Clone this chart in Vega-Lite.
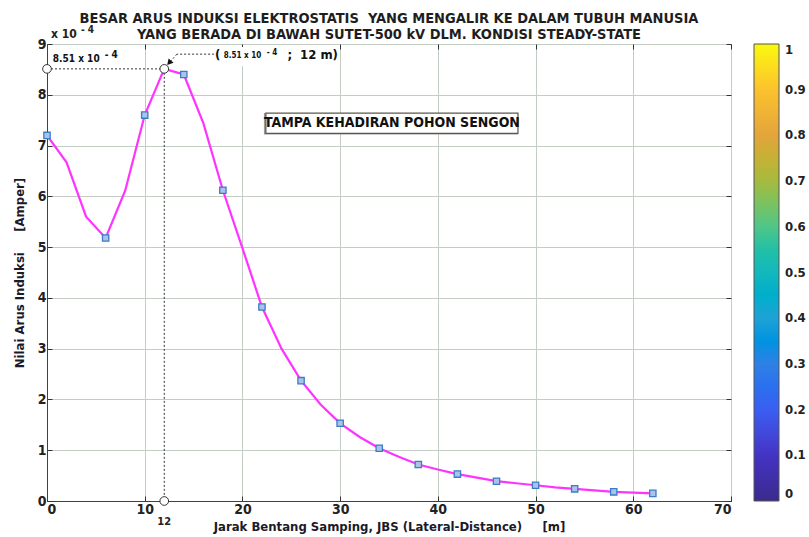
{
  "$schema": "https://vega.github.io/schema/vega-lite/v6.json",
  "width": 684,
  "height": 457,
  "autosize": "none",
  "padding": {"left": 47, "top": 44, "right": 78, "bottom": 36},
  "title": {
    "text": ["BESAR ARUS INDUKSI ELEKTROSTATIS\u00a0\u00a0YANG MENGALIR KE DALAM TUBUH MANUSIA", "YANG BERADA DI BAWAH SUTET-500 kV DLM. KONDISI STEADY-STATE"],
    "anchor": "middle",
    "font": "DejaVu Sans Condensed, sans-serif",
    "fontSize": 14.5,
    "fontWeight": "bold",
    "color": "#1e1e1e",
    "lineHeight": 16,
    "offset": -17
  },
  "datasets": {
    "curve": [
      {"x": 0, "y": 7.2}, {"x": 2, "y": 6.67}, {"x": 4, "y": 5.6}, {"x": 6, "y": 5.18},
      {"x": 8, "y": 6.11}, {"x": 10, "y": 7.6}, {"x": 12, "y": 8.51}, {"x": 14, "y": 8.4},
      {"x": 16, "y": 7.44}, {"x": 18, "y": 6.12}, {"x": 20, "y": 4.98}, {"x": 22, "y": 3.82},
      {"x": 24, "y": 3.0}, {"x": 26, "y": 2.37}, {"x": 28, "y": 1.9}, {"x": 30, "y": 1.53},
      {"x": 32, "y": 1.26}, {"x": 34, "y": 1.04}, {"x": 36, "y": 0.87}, {"x": 38, "y": 0.72},
      {"x": 40, "y": 0.62}, {"x": 42, "y": 0.53}, {"x": 44, "y": 0.46}, {"x": 46, "y": 0.39},
      {"x": 48, "y": 0.35}, {"x": 50, "y": 0.31}, {"x": 52, "y": 0.27}, {"x": 54, "y": 0.24},
      {"x": 56, "y": 0.21}, {"x": 58, "y": 0.18}, {"x": 60, "y": 0.165}, {"x": 62, "y": 0.15}
    ],
    "markers": [
      {"x": 0, "y": 7.2}, {"x": 6, "y": 5.18}, {"x": 10, "y": 7.6}, {"x": 14, "y": 8.4},
      {"x": 18, "y": 6.12}, {"x": 22, "y": 3.82}, {"x": 26, "y": 2.37}, {"x": 30, "y": 1.53},
      {"x": 34, "y": 1.04}, {"x": 38, "y": 0.72}, {"x": 42, "y": 0.53}, {"x": 46, "y": 0.39},
      {"x": 50, "y": 0.31}, {"x": 54, "y": 0.24}, {"x": 58, "y": 0.18}, {"x": 62, "y": 0.15}
    ],
    "refs": [
      {"x": 0, "y": 8.51, "x2": 12, "y2": 8.51},
      {"x": 12, "y": 8.51, "x2": 12, "y2": 0},
      {"x": 17.1, "y": 8.8, "x2": 13.3, "y2": 8.8},
      {"x": 13.3, "y": 8.8, "x2": 12.55, "y2": 8.64}
    ],
    "circles": [{"x": 0, "y": 8.51}, {"x": 12, "y": 8.51}, {"x": 12, "y": 0}],
    "boxes": [
      {"x": 0.34, "x2": 7.3, "y": 8.58, "y2": 8.84},
      {"x": 17.1, "x2": 29.8, "y": 8.56, "y2": 8.94}
    ],
    "bigtext": [
      {"x": 17.2, "y": 8.78, "label": "("},
      {"x": 24.6, "y": 8.78, "label": ";"},
      {"x": 25.9, "y": 8.78, "label": "12 m)"}
    ],
    "smalltext": [
      {"x": 0.6, "y": 8.7, "label": "8.51 x 10", "s": 10},
      {"x": 18.1, "y": 8.76, "label": "8.51 x 10", "s": 8}
    ],
    "suptext": [
      {"x": 5.9, "y": 8.79, "label": "- 4", "s": 10},
      {"x": 22.5, "y": 8.83, "label": "- 4", "s": 8}
    ],
    "scale": [{"c": 0}, {"c": 1}]
  },
  "layer": [
    {
      "data": {"values": [{"x": 0, "y": 0}]},
      "mark": {"type": "point", "size": 0},
      "encoding": {
        "x": {"field": "x", "type": "quantitative", "scale": {"domain": [0, 70], "nice": false},
              "axis": {"orient": "bottom", "title": "Jarak Bentang Samping, JBS (Lateral-Distance)\u00a0\u00a0\u00a0\u00a0\u00a0[m]", "values": [0, 10, 20, 30, 40, 50, 60, 70], "grid": true, "labelPadding": 6, "titlePadding": 4}},
        "y": {"field": "y", "type": "quantitative", "scale": {"domain": [0, 9], "nice": false},
              "axis": {"orient": "left", "title": "Nilai Arus Induksi\u00a0\u00a0\u00a0\u00a0\u00a0[Amper]", "values": [0, 1, 2, 3, 4, 5, 6, 7, 8, 9], "grid": true, "labelPadding": 6, "titlePadding": 11}}
      }
    },
    {
      "data": {"values": [{"x": 0, "y": 0}]},
      "mark": {"type": "point", "size": 0},
      "encoding": {
        "x": {"field": "x", "type": "quantitative", "axis": {"orient": "top", "title": null, "labels": false, "grid": false, "domain": false, "values": [0, 10, 20, 30, 40, 50, 60, 70]}},
        "y": {"field": "y", "type": "quantitative", "axis": {"orient": "right", "title": null, "labels": false, "grid": false, "domain": false, "values": [0, 1, 2, 3, 4, 5, 6, 7, 8, 9]}}
      }
    },
    {
      "data": {"name": "curve"},
      "mark": {"type": "line", "color": "#ff33ff", "strokeWidth": 2.2},
      "encoding": {
        "x": {"field": "x", "type": "quantitative", "axis": null},
        "y": {"field": "y", "type": "quantitative", "axis": null}
      }
    },
    {
      "data": {"name": "markers"},
      "mark": {"type": "point", "shape": "square", "size": 40, "filled": true, "fill": "#a9c4e6", "stroke": "#3b7bc8", "strokeWidth": 1.3, "opacity": 1},
      "encoding": {
        "x": {"field": "x", "type": "quantitative", "axis": null},
        "y": {"field": "y", "type": "quantitative", "axis": null}
      }
    },
    {
      "data": {"name": "refs"},
      "mark": {"type": "rule", "color": "#333333", "strokeWidth": 1, "strokeDash": [2, 2]},
      "encoding": {
        "x": {"field": "x", "type": "quantitative", "axis": null},
        "y": {"field": "y", "type": "quantitative", "axis": null},
        "x2": {"field": "x2"},
        "y2": {"field": "y2"}
      }
    },
    {
      "data": {"values": [{"x": 12.5, "y": 8.63}]},
      "mark": {"type": "point", "shape": "triangle-up", "size": 45, "filled": true, "color": "#111111", "angle": 222, "opacity": 1},
      "encoding": {
        "x": {"field": "x", "type": "quantitative", "axis": null},
        "y": {"field": "y", "type": "quantitative", "axis": null}
      }
    },
    {
      "data": {"name": "circles"},
      "mark": {"type": "point", "shape": "circle", "size": 75, "filled": true, "fill": "#ffffff", "stroke": "#333333", "strokeWidth": 1, "opacity": 1},
      "encoding": {
        "x": {"field": "x", "type": "quantitative", "axis": null},
        "y": {"field": "y", "type": "quantitative", "axis": null}
      }
    },
    {
      "data": {"name": "boxes"},
      "mark": {"type": "rect", "fill": "#ffffff"},
      "encoding": {
        "x": {"field": "x", "type": "quantitative", "axis": null},
        "y": {"field": "y", "type": "quantitative", "axis": null},
        "x2": {"field": "x2"},
        "y2": {"field": "y2"}
      }
    },
    {
      "data": {"values": [{"x": 22.2, "x2": 48.2, "y": 7.22, "y2": 7.64}]},
      "mark": {"type": "rect", "fill": "#9a9a9a"},
      "encoding": {
        "x": {"field": "x", "type": "quantitative", "axis": null},
        "y": {"field": "y", "type": "quantitative", "axis": null},
        "x2": {"field": "x2"},
        "y2": {"field": "y2"}
      }
    },
    {
      "data": {"values": [{"x": 22.4, "x2": 48.2, "y": 7.24, "y2": 7.64}]},
      "mark": {"type": "rect", "fill": "#ffffff", "stroke": "#5a5a4a", "strokeWidth": 1.2},
      "encoding": {
        "x": {"field": "x", "type": "quantitative", "axis": null},
        "y": {"field": "y", "type": "quantitative", "axis": null},
        "x2": {"field": "x2"},
        "y2": {"field": "y2"}
      }
    },
    {
      "data": {"values": [{"x": 35.3, "y": 7.44, "label": "TAMPA KEHADIRAN POHON SENGON"}]},
      "mark": {"type": "text", "font": "DejaVu Sans Condensed, sans-serif", "fontSize": 14, "fontWeight": "bold", "color": "#111111", "align": "center", "baseline": "middle"},
      "encoding": {
        "x": {"field": "x", "type": "quantitative", "axis": null},
        "y": {"field": "y", "type": "quantitative", "axis": null},
        "text": {"field": "label"}
      }
    },
    {
      "data": {"name": "bigtext"},
      "mark": {"type": "text", "font": "DejaVu Sans Condensed, sans-serif", "fontSize": 13, "fontWeight": "bold", "color": "#111111", "align": "left", "baseline": "middle"},
      "encoding": {
        "x": {"field": "x", "type": "quantitative", "axis": null},
        "y": {"field": "y", "type": "quantitative", "axis": null},
        "text": {"field": "label"}
      }
    },
    {
      "data": {"name": "smalltext"},
      "mark": {"type": "text", "font": "DejaVu Sans Condensed, sans-serif", "fontWeight": "bold", "color": "#111111", "align": "left", "baseline": "middle"},
      "encoding": {
        "x": {"field": "x", "type": "quantitative", "axis": null},
        "y": {"field": "y", "type": "quantitative", "axis": null},
        "text": {"field": "label"},
        "size": {"field": "s", "type": "quantitative", "scale": null, "legend": null}
      }
    },
    {
      "data": {"name": "suptext"},
      "mark": {"type": "text", "font": "DejaVu Sans Condensed, sans-serif", "fontWeight": "bold", "color": "#111111", "align": "left", "baseline": "middle"},
      "encoding": {
        "x": {"field": "x", "type": "quantitative", "axis": null},
        "y": {"field": "y", "type": "quantitative", "axis": null},
        "text": {"field": "label"},
        "size": {"field": "s", "type": "quantitative", "scale": null, "legend": null}
      }
    },
    {
      "data": {"values": [{"x": 0, "y": 9, "label": "x 10"}]},
      "mark": {"type": "text", "font": "DejaVu Sans Condensed, sans-serif", "fontSize": 12, "fontWeight": "bold", "color": "#222222", "align": "left", "baseline": "middle", "dx": 4, "dy": -10},
      "encoding": {
        "x": {"field": "x", "type": "quantitative", "axis": null},
        "y": {"field": "y", "type": "quantitative", "axis": null},
        "text": {"field": "label"}
      }
    },
    {
      "data": {"values": [{"x": 0, "y": 9, "label": "- 4"}]},
      "mark": {"type": "text", "font": "DejaVu Sans Condensed, sans-serif", "fontSize": 10, "fontWeight": "bold", "color": "#222222", "align": "left", "baseline": "middle", "dx": 34, "dy": -14},
      "encoding": {
        "x": {"field": "x", "type": "quantitative", "axis": null},
        "y": {"field": "y", "type": "quantitative", "axis": null},
        "text": {"field": "label"}
      }
    },
    {
      "data": {"values": [{"x": 12, "y": 0, "label": "12"}]},
      "mark": {"type": "text", "font": "DejaVu Sans Condensed, sans-serif", "fontSize": 11, "fontWeight": "bold", "color": "#222222", "align": "center", "baseline": "middle", "dy": 21},
      "encoding": {
        "x": {"field": "x", "type": "quantitative", "axis": null},
        "y": {"field": "y", "type": "quantitative", "axis": null},
        "text": {"field": "label"}
      }
    },
    {
      "data": {"name": "scale"},
      "mark": {"type": "point", "size": 0, "opacity": 1},
      "encoding": {
        "color": {"field": "c", "type": "quantitative",
          "scale": {"domain": [0, 1], "range": ["#3a2a8c", "#4433c4", "#3a5ef2", "#2f80e6", "#1ea2d6", "#12b8bc", "#4fc688", "#a6ba3e", "#e3a53a", "#fbc22e", "#f9f90f"]},
          "legend": {"orient": "none", "legendX": 707, "legendY": 0, "title": null, "direction": "vertical", "gradientLength": 457, "gradientThickness": 25, "gradientStrokeColor": "#555555", "gradientStrokeWidth": 1, "gradientOpacity": 1, "values": [0, 0.1, 0.2, 0.3, 0.4, 0.5, 0.6, 0.7, 0.8, 0.9, 1], "format": ".1~f", "labelFont": "DejaVu Sans Condensed, sans-serif", "labelFontSize": 13, "labelFontWeight": "bold", "labelColor": "#222222", "labelOffset": 6, "labelOverlap": false}
        }
      }
    }
  ],
  "resolve": {"axis": {"x": "independent", "y": "independent"}},
  "config": {
    "view": {"fill": "#e2ece2", "stroke": "#404040", "strokeWidth": 1},
    "axis": {
      "labelFont": "DejaVu Sans Condensed, sans-serif",
      "labelFontSize": 14,
      "labelFontWeight": "bold",
      "labelColor": "#222222",
      "titleFont": "DejaVu Sans Condensed, sans-serif",
      "titleFontSize": 13,
      "titleFontWeight": "bold",
      "titleColor": "#1a1a2a",
      "gridColor": "#c3cdc3",
      "gridOpacity": 1,
      "tickColor": "#333333",
      "tickSize": -5,
      "domainColor": "#404040",
      "labelAngle": 0
    }
  }
}
